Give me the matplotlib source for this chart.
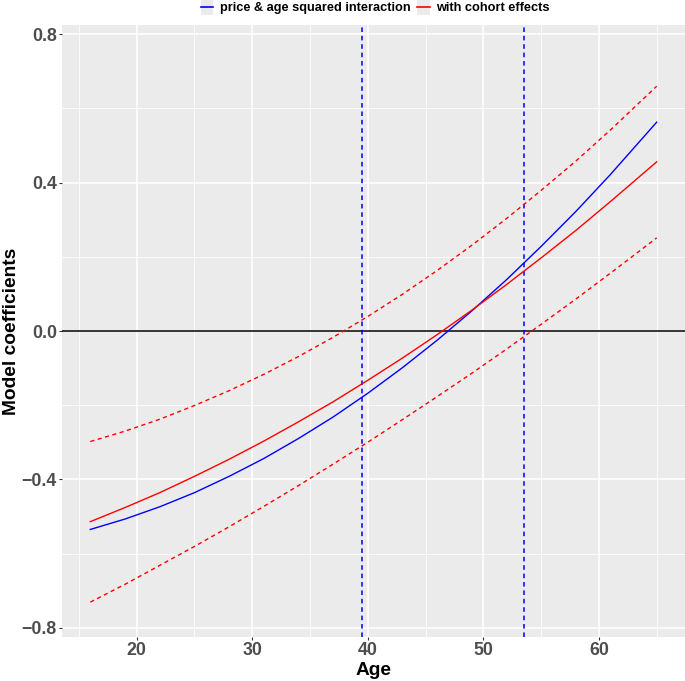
import matplotlib
matplotlib.use('Agg')
import matplotlib.pyplot as plt
from matplotlib.lines import Line2D
from matplotlib.patches import Rectangle
from matplotlib.legend_handler import HandlerLine2D

# values
ages = [16, 19, 22, 25, 28, 31, 34, 37, 40, 43, 46, 49, 52, 55, 58, 61, 65]
price_age_sq = [-0.535, -0.507, -0.474, -0.436, -0.392, -0.344, -0.290, -0.232, -0.168,
                -0.099, -0.025, 0.054, 0.138, 0.228, 0.322, 0.422, 0.563]
cohort = [-0.514, -0.476, -0.436, -0.392, -0.346, -0.297, -0.245, -0.191, -0.133,
          -0.073, -0.010, 0.056, 0.125, 0.197, 0.271, 0.349, 0.456]
cohort_upper = [-0.298, -0.270, -0.238, -0.201, -0.161, -0.117, -0.069, -0.017, 0.039,
                0.099, 0.163, 0.231, 0.303, 0.379, 0.458, 0.542, 0.660]
cohort_lower = [-0.731, -0.683, -0.632, -0.581, -0.528, -0.473, -0.417, -0.359, -0.300,
                -0.239, -0.177, -0.114, -0.049, 0.018, 0.086, 0.156, 0.251]
vlines = [39.5, 53.5]
yticks = [-0.8, -0.4, 0.0, 0.4, 0.8]
ytick_labels = ['\u22120.8', '\u22120.4', '0.0', '0.4', '0.8']
xticks = [20, 30, 40, 50, 60]
legend_labels = ['price & age squared interaction', 'with cohort effects']


class KeyHandler(HandlerLine2D):
    # ggplot style legend key: grey square behind the line
    def create_artists(self, legend, orig_handle, xdescent, ydescent, width, height,
                       fontsize, trans):
        bg = Rectangle((-xdescent, -ydescent - 3), width, height + 6,
                       facecolor='#ebebeb', edgecolor='none', transform=trans)
        arts = super().create_artists(legend, orig_handle, xdescent, ydescent,
                                      width, height, fontsize, trans)
        return [bg] + arts


plt.rcParams['font.family'] = ['Liberation Sans', 'DejaVu Sans']

fig = plt.figure(figsize=(6.85, 6.81), dpi=100)
ax = fig.add_axes([62/685, 1-637/681, 1-62/685, (637-25)/681])
ax.set_facecolor('#ebebeb')
for s in ax.spines.values():
    s.set_visible(False)

ax.set_xlim(13.55, 67.45)
ax.set_ylim(-0.825, 0.825)
ax.set_xticks(xticks)
ax.set_xticks([15, 25, 35, 45, 55, 65], minor=True)
ax.set_yticks(yticks)
ax.set_yticklabels(ytick_labels)
ax.set_yticks([-0.6, -0.2, 0.2, 0.6], minor=True)
ax.grid(which='major', color='white', lw=1.1)
ax.grid(which='minor', color='white', lw=0.55)
ax.set_axisbelow(True)
ax.tick_params(which='major', length=2.2, width=0.8, color='#333333', labelsize=12.8,
               labelcolor='#4d4d4d', pad=1.5)
ax.tick_params(which='minor', length=0)
for lab in ax.get_xticklabels() + ax.get_yticklabels():
    lab.set_fontweight('bold')

ax.axhline(0, color='black', lw=1.1)
for v in vlines:
    ax.axvline(v, color='blue', lw=1.1, dashes=(3, 2.5))

ax.plot(ages, cohort_upper, color='red', lw=1.0, dashes=(3, 2.5))
ax.plot(ages, cohort_lower, color='red', lw=1.0, dashes=(3, 2.5))
ax.plot(ages, price_age_sq, color='blue', lw=1.0)
ax.plot(ages, cohort, color='red', lw=1.0)

ax.set_xlabel('Age', fontsize=13.8, fontweight='bold', labelpad=2)
ax.set_ylabel('Model coefficients', fontsize=13.8, fontweight='bold', labelpad=1.5)

handles = [Line2D([], [], color='blue', lw=1.2), Line2D([], [], color='red', lw=1.2)]
leg = fig.legend(handles, legend_labels,
                 loc='center', bbox_to_anchor=(375/685, 1-8/681), ncol=2, frameon=False,
                 prop={'weight': 'bold', 'size': 9.2}, handlelength=1.0,
                 handletextpad=0.5, columnspacing=0.5, borderpad=0,
                 handler_map={Line2D: KeyHandler()})

fig.savefig('out.png', dpi=100)
